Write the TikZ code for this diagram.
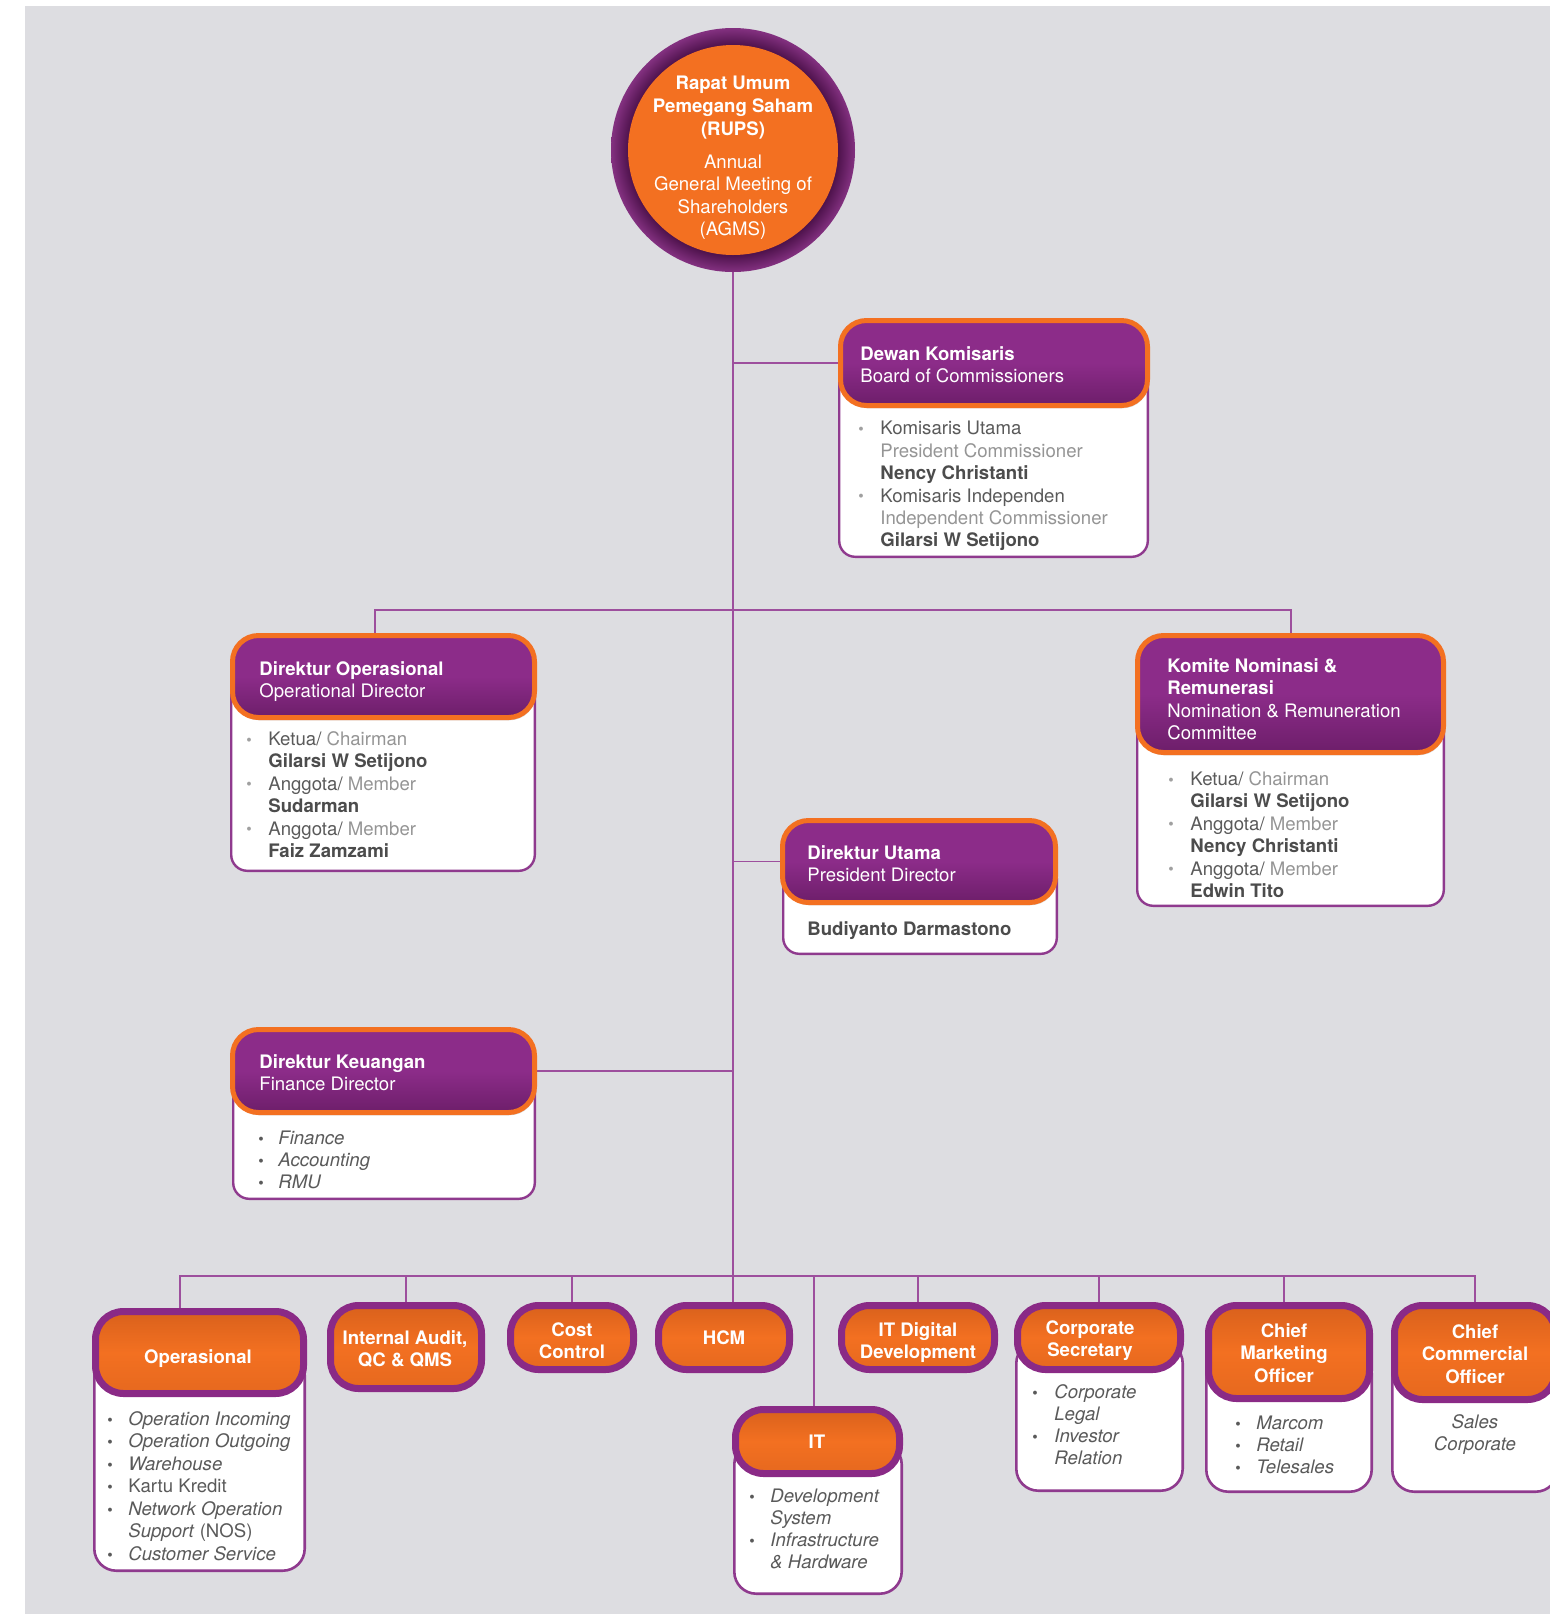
\documentclass[tikz,border=0pt]{standalone}
\usepackage{fontspec}
\setmainfont{TeX Gyre Heros}
\usetikzlibrary{fit,shadows}
\definecolor{bgc}{HTML}{DDDDE1}
\definecolor{purH}{HTML}{8C2C89}
\definecolor{purHD}{HTML}{6D1E6A}
\definecolor{purB}{HTML}{8A2A86}
\definecolor{ora}{HTML}{F37021}
\definecolor{oraD}{HTML}{D9611C}
\definecolor{lnc}{HTML}{9D4F9D}
\definecolor{bdc}{HTML}{8F3A8E}
\definecolor{txd}{HTML}{5A5A5A}
\definecolor{txl}{HTML}{959595}
\definecolor{txb}{HTML}{4C4C4C}
\definecolor{bulc}{HTML}{A0A0A0}
\definecolor{ringD}{HTML}{4E124C}
\definecolor{ringO}{HTML}{82307F}
\pgfdeclareradialshading{ringsh}{\pgfpoint{0bp}{0bp}}{color(0bp)=(ringD); color(21.5bp)=(ringD); color(24.9bp)=(ringO); color(50bp)=(ringO)}
\pgfdeclarelayer{back}
\pgfdeclarelayer{lines}
\pgfsetlayers{back,lines,main}
\newcommand\myfs{\fontsize{9.3pt}{11.2pt}\selectfont}
\newcommand\bulA[1][11pt]{\makebox[#1][l]{\color{bulc}\raisebox{0.2pt}{\fontsize{7.8}{7.8}\selectfont\textbullet}}}
\newcommand\bulB[1][10.5pt]{\makebox[#1][l]{\raisebox{0.2pt}{\fontsize{7.8}{7.8}\selectfont\textbullet}}}
\tikzset{
  conn/.style={draw=lnc, line width=0.8pt},
  hdrup/.style={rounded corners=13pt, draw=ora, line width=2.5pt, inner sep=-1.25pt,
    top color=purH, bottom color=purHD, middle color=purH,
    drop shadow={opacity=0.3, shadow xshift=0.6pt, shadow yshift=-1.4pt}},
  hdrlo/.style={rounded corners=14pt, draw=purB, line width=3.5pt, inner sep=-1.75pt,
    top color=oraD, bottom color=oraD!50!ora, middle color=ora,
    drop shadow={opacity=0.25, shadow xshift=0.5pt, shadow yshift=-1.2pt}},
  bodyup/.style={rounded corners=8pt, draw=bdc, line width=1.2pt, fill=white, inner sep=-0.6pt},
  bodylo/.style={rounded corners=11pt, draw=bdc, line width=1.3pt, fill=white, inner sep=-0.65pt},
  ttlw/.style={anchor=north west, inner sep=0pt, align=left, text=white, font=\myfs},
  ttlc/.style={anchor=north, inner sep=0pt, align=center, text=white, font=\myfs\bfseries},
  bodytxt/.style={anchor=north west, inner sep=0pt, align=left, text=txd, font=\myfs},
}
\begin{document}
\begin{tikzpicture}[x=0.5pt,y=-0.5pt]
\useasboundingbox (0,0) rectangle (1550,1614);
\begin{pgfonlayer}{back}
\fill[white] (0,0) rectangle (1550,1614);
\fill[bgc] (25,6) rectangle (1550,1614);
\end{pgfonlayer}
\clip (0,0) rectangle (1550,1614);

% ---------- RUPS circle
\node[circle, inner sep=0pt, minimum size=122pt, shading=ringsh] (rups) at (733,150) {};
\node[circle, inner sep=0pt, minimum size=105pt, fill=ora] (rupsin) at (733,150) {};
\node[anchor=north, inner sep=0pt, align=center, text=white, font=\fontsize{9.3pt}{11.5pt}\selectfont\bfseries] (rupst) at (733,75) {\rule{0pt}{7pt}Rapat Umum\\Pemegang Saham\\(RUPS)};
\node[anchor=north, inner sep=0pt, align=center, text=white, font=\fontsize{9.3pt}{11.25pt}\selectfont] (agms) at (733,154) {\rule{0pt}{7pt}Annual\\General Meeting of\\Shareholders\\(AGMS)};

% ---------- Dewan Komisaris
\node[bodyup, fit={(838,363) (1149,558)}] (dkb) {};
\node[hdrup, fit={(838,318) (1150,408)}] (dkh) {};
\node[ttlw] (dkt) at (860,346) {\rule{0pt}{7pt}{\bfseries Dewan Komisaris}\\Board of Commissioners};
\node[bodytxt] (dkx) at (858,420.5) {\rule{0pt}{7pt}\bulA Komisaris Utama\\
\hspace*{11pt}{\color{txl}President Commissioner}\\
\hspace*{11pt}{\bfseries\color{txb}Nency Christanti}\\
\bulA Komisaris Independen\\
\hspace*{11pt}{\color{txl}Independent Commissioner}\\
\hspace*{11pt}{\bfseries\color{txb}Gilarsi W Setijono}};

% ---------- Direktur Operasional
\node[bodyup, fit={(230,676) (536,872)}] (dob) {};
\node[hdrup, fit={(230,633) (537,720)}] (doh) {};
\node[ttlw] (dot) at (259,661) {\rule{0pt}{7pt}{\bfseries Direktur Operasional}\\Operational Director};
\node[bodytxt] (dox) at (246,731) {\rule{0pt}{7pt}\bulA Ketua/ {\color{txl}Chairman}\\
\hspace*{11pt}{\bfseries\color{txb}Gilarsi W Setijono}\\
\bulA Anggota/ {\color{txl}Member}\\
\hspace*{11pt}{\bfseries\color{txb}Sudarman}\\
\bulA Anggota/ {\color{txl}Member}\\
\hspace*{11pt}{\bfseries\color{txb}Faiz Zamzami}};

% ---------- Komite Nominasi
\node[bodyup, fit={(1136,694) (1445,907)}] (knb) {};
\node[hdrup, fit={(1135,633) (1446,755)}] (knh) {};
\node[ttlw] (knt) at (1167,658) {\rule{0pt}{7pt}{\bfseries Komite Nominasi \&}\\{\bfseries Remunerasi}\\Nomination \& Remuneration\\Committee};
\node[bodytxt] (knx) at (1168,771) {\rule{0pt}{7pt}\bulA Ketua/ {\color{txl}Chairman}\\
\hspace*{11pt}{\bfseries\color{txb}Gilarsi W Setijono}\\
\bulA Anggota/ {\color{txl}Member}\\
\hspace*{11pt}{\bfseries\color{txb}Nency Christanti}\\
\bulA Anggota/ {\color{txl}Member}\\
\hspace*{11pt}{\bfseries\color{txb}Edwin Tito}};

% ---------- Direktur Utama
\node[bodyup, fit={(782,861) (1058,955)}] (dub) {};
\node[hdrup, fit={(780,818) (1058,905)}] (duh) {};
\node[ttlw] (dut) at (807,845) {\rule{0pt}{7pt}{\bfseries Direktur Utama}\\President Director};
\node[bodytxt] (dux) at (807,921) {\rule{0pt}{7pt}{\bfseries\color{txb}Budiyanto Darmastono}};

% ---------- Direktur Keuangan
\node[bodyup, fit={(232,1071) (536,1200)}] (dkeb) {};
\node[hdrup, fit={(230,1027) (537,1115)}] (dkeh) {};
\node[ttlw] (dket) at (259,1054) {\rule{0pt}{7pt}{\bfseries Direktur Keuangan}\\Finance Director};
\node[bodytxt, font=\fontsize{9.3pt}{11pt}\selectfont] (dkex) at (258,1130) {\rule{0pt}{7pt}\bulB[10pt]\textit{Finance}\\
\bulB[10pt]\textit{Accounting}\\
\bulB[10pt]\textit{RMU}};

% ---------- Bottom row
\node[bodylo, fit={(93,1352) (306,1572)}] (opb) {};
\node[hdrlo, fit={(92,1308) (307,1397)}] (oph) {};
\node[ttlc] (opt) at (198,1349) {\rule{0pt}{7pt}Operasional};
\node[bodytxt, font=\fontsize{9.3pt}{11.25pt}\selectfont] (opx) at (107,1411) {\rule{0pt}{7pt}\bulB\textit{Operation Incoming}\\
\bulB\textit{Operation Outgoing}\\
\bulB\textit{Warehouse}\\
\bulB Kartu Kredit\\
\bulB\textit{Network Operation}\\
\hspace*{10.5pt}\textit{Support} (NOS)\\
\bulB\textit{Customer Service}};

\node[hdrlo, fit={(327,1302) (485,1392)}] (iah) {};
\node[ttlc, font=\fontsize{9.3pt}{11pt}\selectfont\bfseries] (iat) at (405,1330) {\rule{0pt}{7pt}Internal Audit,\\QC \& QMS};

\node[hdrlo, fit={(507,1302) (637,1373)}] (cch) {};
\node[ttlc, font=\fontsize{9.3pt}{11pt}\selectfont\bfseries] (cct) at (572,1322) {\rule{0pt}{7pt}Cost\\Control};

\node[hdrlo, fit={(655,1302) (793,1373)}] (hcmh) {};
\node[ttlc] (hcmt) at (724,1330) {\rule{0pt}{7pt}HCM};

\node[hdrlo, fit={(838,1302) (998,1373)}] (itdh) {};
\node[ttlc, font=\fontsize{9.3pt}{11pt}\selectfont\bfseries] (itdt) at (918,1322) {\rule{0pt}{7pt}IT Digital\\Development};

\node[bodylo, fit={(733,1441) (903,1595)}] (itb) {};
\node[hdrlo, fit={(732,1406) (903,1477)}] (ith) {};
\node[ttlc] (itt) at (817,1434) {\rule{0pt}{7pt}IT};
\node[bodytxt, font=\fontsize{9.3pt}{11pt}\selectfont] (itx) at (749,1488) {\rule{0pt}{7pt}\bulB\textit{Development}\\
\hspace*{10.5pt}\textit{System}\\
\bulB\textit{Infrastructure}\\
\hspace*{10.5pt}\textit{\& Hardware}};

\node[bodylo, fit={(1015,1340) (1184,1492)}] (csb) {};
\node[hdrlo, fit={(1014,1302) (1184,1373)}] (csh) {};
\node[ttlc, font=\fontsize{9.3pt}{11pt}\selectfont\bfseries] (cst) at (1090,1320) {\rule{0pt}{7pt}Corporate\\Secretary};
\node[bodytxt, font=\fontsize{9.3pt}{11pt}\selectfont] (csx) at (1032,1384) {\rule{0pt}{7pt}\bulB[11pt]\textit{Corporate}\\
\hspace*{11pt}\textit{Legal}\\
\bulB[11pt]\textit{Investor}\\
\hspace*{11pt}\textit{Relation}};

\node[bodylo, fit={(1205,1350) (1373,1493)}] (cmb) {};
\node[hdrlo, fit={(1205,1302) (1373,1402)}] (cmh) {};
\node[ttlc] (cmt) at (1284,1323) {\rule{0pt}{7pt}Chief\\Marketing\\Officer};
\node[bodytxt, font=\fontsize{9.3pt}{11pt}\selectfont] (cmx) at (1235,1415) {\rule{0pt}{7pt}\bulB\textit{Marcom}\\
\bulB\textit{Retail}\\
\bulB\textit{Telesales}};

\node[bodylo, fit={(1391,1350) (1559,1493)}] (ccob) {};
\node[hdrlo, fit={(1391,1302) (1559,1403)}] (ccoh) {};
\node[ttlc] (ccot) at (1475,1324) {\rule{0pt}{7pt}Chief\\Commercial\\Officer};
\node[anchor=north, inner sep=0pt, align=center, text=txd, font=\fontsize{9.3pt}{11pt}\selectfont\itshape] (ccox) at (1475,1414) {\rule{0pt}{7pt}Sales\\Corporate};

% ---------- connectors
\begin{pgfonlayer}{lines}
\draw[conn] (rups.south) -- (rups.south |- hcmh.north);
\draw[conn] (rups.south |- dkh.west) -- (dkh.west);
\coordinate (b2L) at (375,610);
\coordinate (b2R) at (1291,610);
\draw[conn] (b2L |- doh.north) -- (b2L) -- (b2R) -- (b2R |- knh.north);
\draw[conn] (rups.south |- duh.west) -- (duh.west);
\draw[conn] (dkeh.east) -- (rups.south |- dkeh.east);
\coordinate (b3L) at (180,1276);
\coordinate (b3R) at (1475,1276);
\draw[conn] (b3L |- oph.north) -- (b3L) -- (b3R) -- (b3R |- ccoh.north);
\draw[conn] (iah.north |- b3L) -- (iah.north);
\draw[conn] (cch.north |- b3L) -- (cch.north);
\coordinate (vIT) at (814,1276);
\draw[conn] (vIT) -- (vIT |- ith.north);
\draw[conn] (itdh.north |- b3L) -- (itdh.north);
\draw[conn] (csh.north |- b3L) -- (csh.north);
\coordinate (vCM) at (1284,1276);
\draw[conn] (vCM) -- (vCM |- cmh.north);
\end{pgfonlayer}
\end{tikzpicture}
\end{document}
